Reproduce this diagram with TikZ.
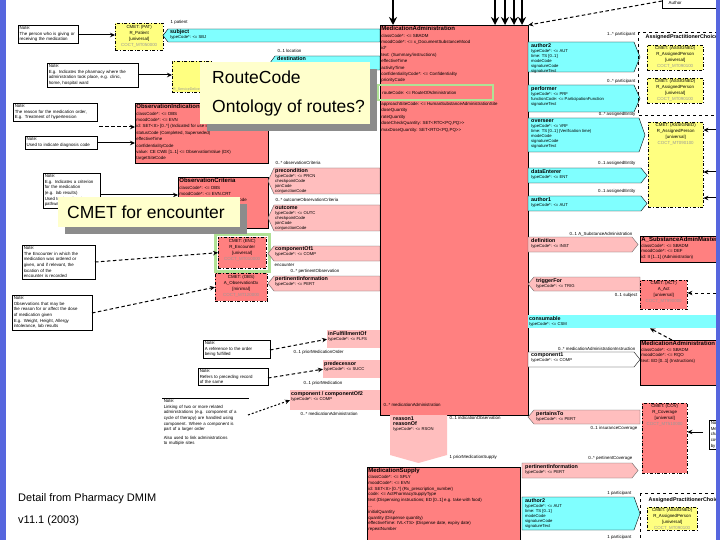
\documentclass[tikz,border=0pt]{standalone}
\usepackage{fontspec}
\setmainfont{Liberation Sans}
\setsansfont{Liberation Sans}
\usetikzlibrary{arrows.meta,shadows}

\definecolor{actred}{RGB}{255,128,128}
\definecolor{relpink}{RGB}{255,190,190}
\definecolor{partcyan}{RGB}{128,255,255}
\definecolor{roleyellow}{RGB}{255,255,128}
\definecolor{calloutbg}{RGB}{255,255,204}
\definecolor{slidebar}{RGB}{86,102,222}
\definecolor{hilite}{RGB}{176,226,150}

\newcommand{\cname}[1]{{\fontsize{6}{7}\selectfont\bfseries #1}}
\newcommand{\tname}[1]{{\fontsize{5.4}{6}\selectfont\bfseries #1}}
\newcommand{\cmetid}[1]{{\color{black!40}#1}}

\tikzset{
  actbox/.style={draw=black, line width=0.4pt, fill=actred, anchor=north west, inner sep=0pt},
  cmetbox/.style={actbox, dash dot},
  rolebox/.style={cmetbox, fill=roleyellow},
  relbox/.style={actbox, draw=none, fill=relpink},
  attr/.style={anchor=north west, align=left, inner sep=1.2pt, font=\fontsize{4.4}{6.4}\selectfont},
  tagtext/.style={anchor=north west, align=left, inner sep=1pt, font=\fontsize{4.2}{5}\selectfont},
  cmettext/.style={anchor=north, align=center, inner sep=1pt, font=\fontsize{4.4}{6}\selectfont},
  rolename/.style={anchor=west, inner sep=0.5pt, font=\fontsize{4.4}{5}\selectfont},
  notebox/.style={draw=black, line width=0.5pt, fill=white, anchor=north west, align=left, inner sep=1.5pt, font=\fontsize{4.4}{5.6}\selectfont},
  parttag/.style={fill=partcyan, draw=black, line width=0.4pt},
  reltag/.style={fill=relpink, draw=black!60, line width=0.4pt},
  callout/.style={fill=calloutbg, anchor=north west, inner sep=0pt, drop shadow={shadow xshift=7pt, shadow yshift=-7pt, fill=black!45, opacity=1}},
  bigtext/.style={anchor=west, inner sep=0pt, font=\fontsize{17.5}{20}\selectfont},
  assocline/.style={draw=black, line width=1pt, -{Stealth[length=5pt,width=4.5pt]}},
  dassocline/.style={assocline, dash pattern=on 3.5pt off 2.5pt},
  feedarrow/.style={draw=black, line width=1.6pt, -{Stealth[length=8pt,width=8pt]}},
}

\begin{document}
\begin{tikzpicture}[x=1pt, y=-1pt]
\useasboundingbox (0,0) rectangle (720,540);
\fill[white] (0,0) rectangle (720,540);

% subject / patient
\node[notebox, text width=57] (noteSubj) at (18,25) {Note:\\The person who is giving or\\receiving the medication};
\node[rolebox, minimum width=48, minimum height=27] (cmetPat) at (115,23) {};
\node[cmettext] (cmetPatTxt) at ([yshift=-1pt]cmetPat.north) {CMET: (PAT)\\R\_Patient\\{[universal]}\\\cmetid{COCT\_MT050000}};
\filldraw[parttag] (163,35.5) -- (168,29) -- (380,29) -- (380,42) -- (168,42) -- cycle;
\node[tagtext] (subjTag) at (169,28.5) {\tname{subject}\\typeCode*: <= SBJ};
\node[rolename] (lblSubj) at (170,22) {1 patient};

% destination / location
\filldraw[parttag] (270,63) -- (275,56) -- (380,56) -- (380,70) -- (275,70) -- cycle;
\node[tagtext] (destTag) at (276,55.5) {\tname{destination}};
\node[rolename] (lblDest) at (277,51) {0..1 location};
\node[rolebox, minimum width=40, minimum height=31] (cmetLoc) at (172,61) {};
\node[anchor=south west, inner sep=1pt, font=\fontsize{3.6}{4}\selectfont] (cmetLocTxt) at (cmetLoc.south west) {\cmetid{R\_ServiceDeliveryLocation}};
\node[notebox, text width=88] (noteLoc) at (47,63) {Note:\\E.g. Indicates the pharmacy where the\\administration took place, e.g. clinic,\\home, hospital ward};

% indication
\node[actbox, minimum width=133, minimum height=60] (obsInd) at (135,103) {};
\node[attr] (obsIndTxt) at (obsInd.north west) {\cname{ObservationIndication}\\classCode*: <= OBS\\moodCode*: <= EVN\\id: SET<II> [0..*] (Indicated for use in treatment)\\statusCode (Completed, Superseded)\\effectiveTime\\confidentialityCode\\value: CE CWE [1..1] <= ObservationValue (DX)\\targetSiteCode};
\node[notebox, text width=81] (noteReason) at (13,103) {Note:\\The reason for the medication order,\\E.g. Treatment of hypertension};
\node[notebox, text width=69] (noteDiag) at (25,136) {Note:\\Used to indicate diagnosis code};

% criteria
\node[actbox, minimum width=90, minimum height=51] (obsCrit) at (178,177) {};
\node[attr] (obsCritTxt) at (obsCrit.north west) {\cname{ObservationCriteria}\\classCode*: <= OBS\\moodCode*: <= EVN.CRT\\code*: CD CWE [1..1] <= ActCode\\value: ANY [0..1]\\interpretationCode\\methodCode};
\node[notebox, text width=54] (noteCrit) at (43,173) {Note:\\E.g. Indicates a criterion\\for the medication\\(e.g. lab results)\\Used to describe the\\pathway or protocol};
\filldraw[reltag] (268,181) -- (274,168) -- (380,168) -- (380,194) -- (274,194) -- cycle;
\node[tagtext] (precondTag) at (274,167.5) {\tname{precondition}\\typeCode*: <= PRCN\\checkpointCode\\joinCode\\conjunctionCode};
\node[rolename] (lblPrecond) at (275,163) {0..* observationCriteria};
\filldraw[reltag] (268,218) -- (274,205) -- (380,205) -- (380,231) -- (274,231) -- cycle;
\node[tagtext] (outcomeTag) at (274,204.5) {\tname{outcome}\\typeCode*: <= OUTC\\checkpointCode\\joinCode\\conjunctionCode};
\node[rolename] (lblOutcome) at (275,200) {0..* outcomeObservationCriteria};

% encounter
\draw[hilite, line width=3pt] (215,234) rectangle (269,271);
\node[cmetbox, minimum width=48, minimum height=31] (cmetEnc) at (218,237) {};
\node[cmettext] (cmetEncTxt) at ([yshift=-1pt]cmetEnc.north) {CMET: (ENC)\\R\_Encounter\\{[universal]}\\\cmetid{COCT\_MT010000}};
\filldraw[reltag] (268,253.5) -- (274,246) -- (380,246) -- (380,261) -- (274,261) -- cycle;
\node[tagtext] (compOf1Tag) at (274,245.5) {\tname{componentOf1}\\typeCode*: <= COMP};
\node[rolename] (lblEnc) at (274,265) {encounter};
\node[notebox, text width=70] (noteEnc) at (22,245) {Note:\\The Encounter in which the\\medication was ordered or\\given, and if relevant, the\\location of the\\encounter is recorded};

% observations
\node[cmetbox, minimum width=52, minimum height=28] (cmetObs) at (215,273) {};
\node[cmettext] (cmetObsTxt) at ([yshift=-1pt]cmetObs.north) {CMET: (OBS)\\A\_ObservationDx\\{[minimal]}\\\cmetid{COCT\_MT120000}};
\filldraw[reltag] (268,283.5) -- (274,276) -- (380,276) -- (380,291) -- (274,291) -- cycle;
\node[tagtext] (pertObsTag) at (274,275.5) {\tname{pertinentInformation}\\typeCode*: <= PERT};
\node[rolename] (lblObsDx) at (290,271) {0..* pertinentObservation};
\node[notebox, text width=77] (noteObs) at (12,295) {Note:\\Observations that may be\\the reason for or affect the dose\\of medication given\\E.g. Weight, Height, Allergy\\intolerance, lab results};

% fulfilment, predecessor, component
\node[relbox, minimum width=53, minimum height=18] (inFulfil) at (327,330) {};
\node[tagtext] (inFulfilTxt) at (inFulfil.north west) {\tname{inFulfillmentOf}\\typeCode*: <= FLFS};
\node[rolename] (lblFulfil) at (293,352) {0..1 priorMedicationOrder};
\node[notebox, text width=64] (noteFulfil) at (203,340) {Note:\\A reference to the order\\being fulfilled};
\node[relbox, minimum width=57, minimum height=18] (predec) at (323,360) {};
\node[tagtext] (predecTxt) at (predec.north west) {\tname{predecessor}\\typeCode*: <= SUCC};
\node[rolename] (lblPredec) at (303,383) {0..1 priorMedication};
\node[notebox, text width=67] (notePred) at (198,368) {Note:\\Refers to preceding record\\of the same};
\node[relbox, minimum width=90, minimum height=20] (compOf2) at (290,390) {};
\node[tagtext] (compOf2Txt) at (compOf2.north west) {\tname{component / componentOf2}\\typeCode*: <= COMP};
\node[rolename] (lblComp) at (300,414) {0..* medicationAdministration};
\node[notebox, draw=none, text width=83] (noteComp) at (162,398) {Note:\\Linking of two or more related\\administrations (e.g. component of a\\cycle of therapy) are handled using\\component. Where a component is\\part of a larger order\\[3pt]Also used to link administrations\\to multiple sites};
\draw[line width=0.5pt] (noteComp.north west) -- (noteComp.north east);

% main act
\node[actbox, minimum width=148, minimum height=390] (medAdm) at (380,25) {};
\node[attr] (medAdmHead) at (medAdm.north west) {\cname{MedicationAdministration}\\classCode*: <= SBADM\\moodCode*: <= x\_DocumentSubstanceMood\\id*\\text: (Summary/instructions)\\effectiveTime\\activityTime\\confidentialityCode*: <= Confidentiality\\priorityCode};
\draw[hilite, line width=2.5pt] (378,85) rectangle (493,100);
\node[attr, anchor=west] (medAdmRoute) at (381,92.5) {routeCode: <= RouteOfAdministration};
\node[attr] (medAdmDose) at (380,101) {approachSiteCode: <= HumanSubstanceAdministrationSite\\doseQuantity\\rateQuantity\\doseCheckQuantity: SET<RTO<PQ,PQ>{}>\\maxDoseQuantity: SET<RTO<PQ,PQ>{}>};
\node[rolename] (lblAdmComp) at (383,405) {0..* medicationAdministration};
\coordinate (feedA) at (393,0);
\coordinate (feedB) at (495,0);
\coordinate (feedC) at (505,0);
\coordinate (feedD) at (514,0);
\coordinate (feedE) at (522,0);
\node[draw=black, line width=0.4pt, fill=white, anchor=north west, minimum width=56, minimum height=14] (authorRef) at (662,-6) {};
\node[rolename] (authorRefTxt) at (668,3) {Author};

% reason and supply
\filldraw[fill=relpink, draw=none] (390,415) -- (447,415) -- (447,455) -- (418.5,463) -- (390,455) -- cycle;
\node[tagtext] (reasonTag) at (392,415.5) {\tname{reason1}\\\tname{reasonOf}\\typeCode*: <= RSON};
\node[rolename] (lblReason) at (449,418) {0..1 indicationObservation};
\node[rolename] (lblSupply) at (449,457) {1 priorMedicationSupply};
\node[actbox, minimum width=153, minimum height=80] (medSupply) at (367,467) {};
\node[attr, font=\fontsize{4.4}{5.8}\selectfont] (medSupplyTxt) at (medSupply.north west) {\cname{MedicationSupply}\\classCode*: <= SPLY\\moodCode*: <= EVN\\id: SET<II> [0..*] (Rx\_prescription\_number)\\code: <= ActPharmacySupplyType\\text (Dispensing instructions; ED [0..1] e.g. take with food)\\...\\initialQuantity\\quantity (Dispense quantity)\\effectiveTime: IVL<TS> (Dispense date, expiry date)\\repeatNumber};

% participants
\node[rolename, anchor=east] (lblAuth2) at (636,34) {1..* participant};
\filldraw[parttag] (528,42) -- (634,42) -- (640,57) -- (634,72) -- (528,72) -- cycle;
\node[tagtext] (author2Tag) at (530,42) {\tname{author2}\\typeCode*: <= AUT\\time: TS [0..1]\\modeCode\\signatureCode\\signatureText};
\node[rolename, anchor=east] (lblPerf) at (636,81) {0..* participant};
\filldraw[parttag] (528,85) -- (634,85) -- (640,98.5) -- (634,112) -- (528,112) -- cycle;
\node[tagtext] (performerTag) at (530,85) {\tname{performer}\\typeCode*: <= PRF\\functionCode: <= ParticipationFunction\\signatureText};
\node[rolename, anchor=east] (lblOverseer) at (636,114.5) {0..* assignedEntity};
\filldraw[parttag] (528,118) -- (639,118) -- (645,135) -- (639,152) -- (528,152) -- cycle;
\node[tagtext] (overseerTag) at (530,118) {\tname{overseer}\\typeCode*: <= VRF\\time: TS [0..1] (Verification time)\\modeCode\\signatureCode\\signatureText};
\node[rolename, anchor=east] (lblEnterer) at (636,163) {0..1 assignedEntity};
\filldraw[parttag] (528,168) -- (641,168) -- (647,175.5) -- (641,183) -- (528,183) -- cycle;
\node[tagtext] (entererTag) at (530,168) {\tname{dataEnterer}\\typeCode*: <= ENT};
\node[rolename, anchor=east] (lblAuth1) at (636,191) {0..1 assignedEntity};
\filldraw[parttag] (528,196) -- (641,196) -- (647,203.5) -- (641,211) -- (528,211) -- cycle;
\node[tagtext] (author1Tag) at (530,196) {\tname{author1}\\typeCode*: <= AUT};

\draw[dashed, line width=0.6pt] (638,32) rectangle (730,115);
\node[rolename, font=\fontsize{5.4}{6}\selectfont\bfseries] (grpTopTitle) at (645,37) {AssignedPractitionerChoice};
\node[rolebox, minimum width=56, minimum height=25] (yelA) at (647,45) {};
\node[cmettext] (yelATxt) at ([yshift=-0.5pt]yelA.north) {CMET: (ASSIGNED)\\R\_AssignedPerson\\{[universal]}\\\cmetid{COCT\_MT090100}};
\node[rolebox, minimum width=56, minimum height=25] (yelB) at (647,78) {};
\node[cmettext] (yelBTxt) at ([yshift=-0.5pt]yelB.north) {CMET: (ASSIGNED)\\R\_AssignedPerson\\{[universal]}\\\cmetid{COCT\_MT090100}};
\node[rolebox, minimum width=55, minimum height=85] (yelC) at (648,122) {};
\node[cmettext] (yelCTxt) at ([yshift=-0.5pt]yelC.north) {CMET: (ASSIGNED)\\R\_AssignedPerson\\{[universal]}\\\cmetid{COCT\_MT090100}};
\coordinate (inC1) at (716,130);
\coordinate (inC2) at (716,172);
\coordinate (inC3) at (716,198);

% definition, trigger, consumable
\node[rolename, anchor=east] (lblDef) at (633,234) {0..1 A\_SubstanceAdministration};
\filldraw[reltag] (528,237) -- (632,237) -- (638,244.5) -- (632,252) -- (528,252) -- cycle;
\node[tagtext] (defTag) at (530,237) {\tname{definition}\\typeCode*: <= INST};
\node[actbox, minimum width=85, minimum height=26] (subAdmDef) at (640,236) {};
\node[attr, font=\fontsize{4.4}{5.6}\selectfont] (subAdmDefTxt) at (subAdmDef.north west) {\cname{A\_SubstanceAdminMaster}\\classCode*: <= SBADM\\moodCode*: <= DEF\\id: II [1..1] (Administration)};
\filldraw[reltag] (528,284) -- (534,277) -- (640,277) -- (640,291) -- (534,291) -- cycle;
\node[tagtext] (triggerTag) at (535,277) {\tname{triggerFor}\\typeCode*: <= TRIG};
\node[rolename, anchor=east] (lblTrigger) at (638,295) {0..1 subject};
\node[cmetbox, minimum width=47, minimum height=29] (cmetAct) at (640,280) {};
\node[cmettext] (cmetActTxt) at ([yshift=-0.5pt]cmetAct.north) {CMET: (ACT)\\A\_Act\\{[universal]}\\\cmetid{COCT\_MT990000}};
\coordinate (inAct) at (716,293);
\node[actbox, fill=partcyan, draw=none, minimum width=188, minimum height=13] (consumable) at (528,315) {};
\node[tagtext] (consumableTxt) at (consumable.north west) {\tname{consumable}\\typeCode*: <= CSM};
\node[rolename, anchor=east] (lblInstr) at (636,349) {0..* medicationAdministrationInstruction};
\filldraw[fill=white, draw=black, line width=0.4pt] (528,352) -- (634,352) -- (640,359.5) -- (634,367) -- (528,367) -- cycle;
\node[tagtext] (comp1Tag) at (530,352) {\tname{component1}\\typeCode*: <= COMP};
\node[actbox, minimum width=80, minimum height=45] (medAdmInstr) at (640,340) {};
\node[attr, font=\fontsize{4.4}{5.6}\selectfont] (medAdmInstrTxt) at (medAdmInstr.north west) {\cname{MedicationAdministration}\\classCode*: <= SBADM\\moodCode*: <= RQO\\text: ED [0..1] (Instructions)};

% coverage
\filldraw[reltag] (528,417) -- (534,410) -- (640,410) -- (640,424) -- (534,424) -- cycle;
\node[tagtext] (pertainsTag) at (535,410) {\tname{pertainsTo}\\typeCode*: <= PERT};
\node[rolename, anchor=east] (lblCov) at (638,428.5) {0..1 insuranceCoverage};
\node[cmetbox, minimum width=45, minimum height=70] (cmetCov) at (642,403) {};
\node[cmettext] (cmetCovTxt) at ([yshift=-0.5pt]cmetCov.north) {CMET: (COV)\\R\_Coverage\\{[universal]}\\\cmetid{COCT\_MT510000}};
\node[notebox, text width=40] (noteCov) at (709,420) {Note:\\Medication\\charges\\covered\\by plan};
\coordinate (inCov) at (703,432);
\node[rolename, anchor=east] (lblPertCov) at (633,458) {0..* pertinentCoverage};
\filldraw[reltag] (522,463) -- (632,463) -- (638,470.5) -- (632,478) -- (522,478) -- cycle;
\node[tagtext] (pertCovTag) at (524,463) {\tname{pertinentInformation}\\typeCode*: <= PERT};

% supply participant
\node[rolename, anchor=east] (lblAuthB) at (632,493) {1 participant};
\filldraw[parttag] (522,497) -- (634,497) -- (640,513.5) -- (634,530) -- (522,530) -- cycle;
\node[tagtext] (author2bTag) at (524,497) {\tname{author2}\\typeCode*: <= AUT\\time: TS [0..1]\\modeCode\\signatureCode\\signatureText};
\node[rolename, anchor=east] (lblAuthC) at (632,537) {1 participant};
\draw[dashed, line width=0.6pt] (640,493) rectangle (730,560);
\node[rolename, font=\fontsize{5.4}{6}\selectfont\bfseries] (grpBotTitle) at (648,500) {AssignedPractitionerChoice};
\node[rolebox, minimum width=50, minimum height=23] (yelD) at (647,507) {};
\node[cmettext] (yelDTxt) at ([yshift=-0.5pt]yelD.north) {CMET: (ASSIGNED)\\R\_AssignedPerson\\{[universal]}\\\cmetid{COCT\_MT090100}};

% connector ends at the notes
\coordinate (noteSubjOut) at (78,35);
\coordinate (noteLocOut) at (138,75);
\coordinate (noteReasonOut) at (99,127);
\coordinate (noteDiagOut) at (97,143);
\coordinate (noteCritOut) at (100,195);
\coordinate (noteEncOut) at (95,262);
\coordinate (noteObsOut) at (92,313);
\coordinate (noteFulfilOut) at (270,350);
\coordinate (notePredOut) at (268,378);
\coordinate (noteCompOut) at (248,415);
\coordinate (authorOut) at (662,1);
\coordinate (instrOut) at (672,340);

% connectors
\draw[assocline] (noteSubjOut) -- (cmetPat.west |- noteSubjOut);
\draw[assocline] (noteLocOut) -- (cmetLoc.west |- noteLocOut);
\draw[dassocline] (noteReasonOut) -- (obsInd.west |- noteReasonOut);
\draw[assocline] (noteDiagOut) -- (obsInd.west |- noteDiagOut);
\draw[assocline] (noteCritOut) -- (obsCrit.west |- noteCritOut);
\draw[dassocline] (noteEncOut) -- (cmetEnc.west);
\draw[dassocline] (noteObsOut) -- (cmetObs.west);
\draw[dassocline] (noteFulfilOut) -- (inFulfil.west);
\draw[dassocline] (notePredOut) -- (predec.west);
\draw[dassocline, dash pattern=on 2pt off 2pt] (noteCompOut) -- (compOf2.west);
\draw[feedarrow] (feedA) -- (feedA |- medAdm.north);
\draw[feedarrow] (feedB) -- (feedB |- medAdm.north);
\draw[feedarrow] (feedC) -- (feedC |- medAdm.north);
\draw[feedarrow] (feedD) -- (feedD |- medAdm.north);
\draw[feedarrow] (feedE) -- (feedE |- medAdm.north);
\draw[dassocline] (authorOut) -- (medAdm.north east);
\draw[assocline] (inC1) -- (yelC.east |- inC1);
\draw[assocline] (inC2) -- (yelC.east |- inC2);
\draw[assocline] (inC3) -- (yelC.east |- inC3);
\draw[dassocline] (inAct) -- (cmetAct.east |- inAct);
\draw[dassocline] (instrOut) -- ([xshift=122pt]consumable.south west);
\draw[assocline] (inCov) -- (cmetCov.east |- inCov);

% footer
\node[anchor=west, inner sep=0pt, font=\fontsize{11}{13}\selectfont] (caption1) at (18,499) {Detail from Pharmacy DMIM};
\node[anchor=west, inner sep=0pt, font=\fontsize{11}{13}\selectfont] (caption2) at (18,521) {v11.1 (2003)};

% callouts
\node[callout, minimum width=170, minimum height=62] (calloutRoute) at (200,62) {};
\node[bigtext] (calloutRouteA) at (212,77) {RouteCode};
\node[bigtext] (calloutRouteB) at (212,108) {Ontology of routes?};
\node[callout, minimum width=182, minimum height=30] (calloutEnc) at (58,197) {};
\node[bigtext] (calloutEncTxt) at (67,212) {CMET for encounter};

% slide bars
\fill[slidebar] (0,0) rectangle (6,540);
\fill[slidebar] (716,0) rectangle (720,540);
\end{tikzpicture}
\end{document}
